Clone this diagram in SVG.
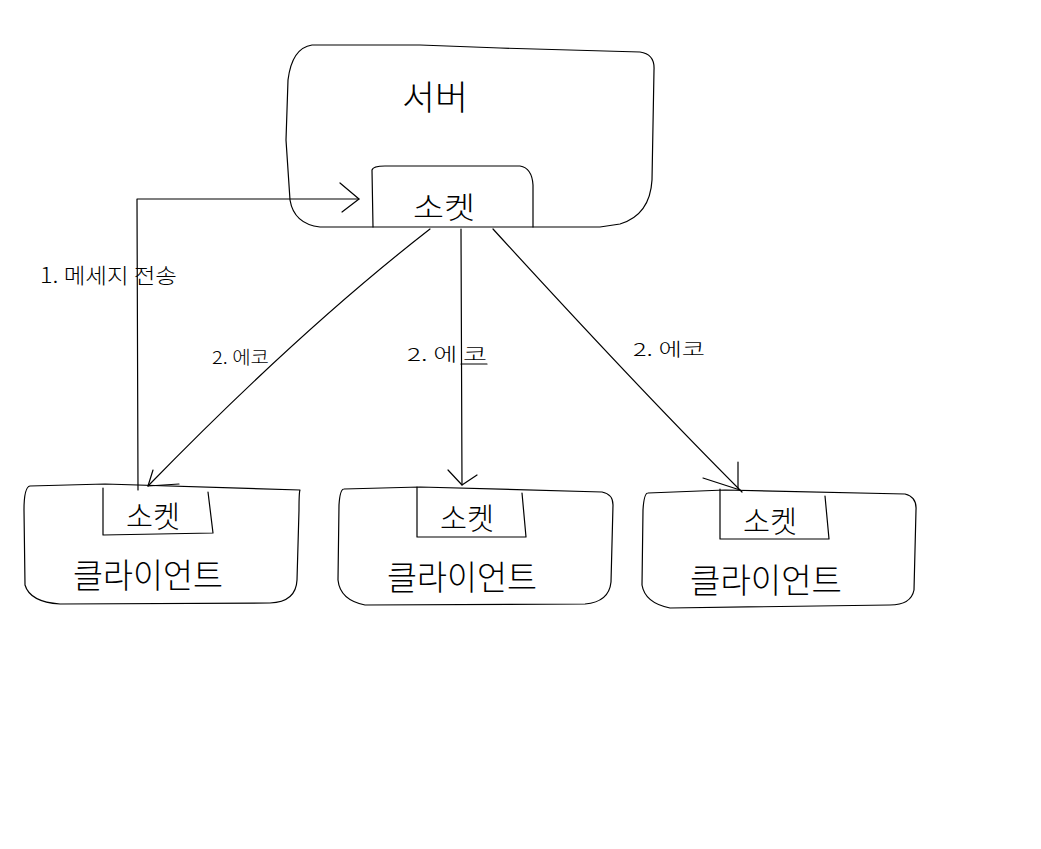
<svg xmlns="http://www.w3.org/2000/svg" width="1041" height="849" viewBox="0 0 1041 849">
<style>
.ln{fill:none;stroke:#000;stroke-width:1.2;stroke-linecap:round;stroke-linejoin:round}
.t{font-family:"Noto Sans CJK KR","Noto Sans",sans-serif;fill:#000;font-weight:300}
.big{font-size:34px}
.sk{font-size:30px}
.lb{font-size:18px}
</style>
<rect width="1041" height="849" fill="#fff"/>
<g id="server">
<path class="ln" d="M312,45 L420,45 L500,48 L640,52 Q655,54 654,70 L652,180 Q650,215 620,224 L600,227 L320,227 Q294,224 290,200 L286,140 L288,80 Q292,48 312,45 Z"/>
<text class="t big" x="435" y="110" text-anchor="middle" textLength="66" lengthAdjust="spacingAndGlyphs">서버</text>
</g>
<g id="server-socket">
<path class="ln" d="M373,227 L372,170 Q373,166 385,166 L520,166 Q532,168 533,185 L533,227"/>
<text class="t sk" x="444" y="218" text-anchor="middle" textLength="62" lengthAdjust="spacingAndGlyphs">소켓</text>
</g>
<g id="client1">
<path class="ln" d="M30,486 L105,484 L300,490 Q299,492 299,510 L297,580 Q296,602 270,603 L60,604 Q30,602 25,585 L24,510 Q24,487 30,486 Z"/>
<path class="ln" d="M103,488 L103,535 L213,533 L208,492"/>
<text class="t sk" x="153" y="527" text-anchor="middle" textLength="54" lengthAdjust="spacingAndGlyphs">소켓</text>
<text class="t big" x="148" y="588" text-anchor="middle" textLength="150" lengthAdjust="spacingAndGlyphs">클라이언트</text>
</g>
<g id="client2">
<path class="ln" d="M344,489 L420,487 L602,492 Q613,494 613,505 L611,582 Q609,602 585,604 L365,605 Q340,600 338,580 L339,505 Q340,489 344,489 Z"/>
<path class="ln" d="M417,487 L417,537 L526,537 L522,493"/>
<text class="t sk" x="467" y="529" text-anchor="middle" textLength="54" lengthAdjust="spacingAndGlyphs">소켓</text>
<text class="t big" x="462" y="590" text-anchor="middle" textLength="150" lengthAdjust="spacingAndGlyphs">클라이언트</text>
</g>
<g id="client3">
<path class="ln" d="M648,493 L725,490 L905,494 Q917,497 916,510 L914,590 Q911,605 890,605 L670,608 Q645,603 642,585 L643,510 Q644,493 648,493 Z"/>
<path class="ln" d="M720,489 L720,539 L829,539 L825,496"/>
<text class="t sk" x="770" y="532" text-anchor="middle" textLength="54" lengthAdjust="spacingAndGlyphs">소켓</text>
<text class="t big" x="766" y="593" text-anchor="middle" textLength="152" lengthAdjust="spacingAndGlyphs">클라이언트</text>
</g>
<g id="connectors">
<path class="ln" d="M138,490 L137,199 L359,199"/>
<path class="ln" d="M340,183 L359,199 L342,212"/>
<path class="ln" d="M430,229 Q300,330 148,486"/>
<path class="ln" d="M153,470 L148,486 L179,484"/>
<path class="ln" d="M461,229 L462,485"/>
<path class="ln" d="M448,470 L462,485 L477,475"/>
<path class="ln" d="M493,229 Q640,390 742,492"/>
<path class="ln" d="M738,462 L738,488 M703,478 L740,490"/>
<line class="ln" x1="461" y1="364" x2="487" y2="364"/>
</g>
<g id="labels">
<text class="t" x="40" y="283" font-size="21" textLength="137" lengthAdjust="spacingAndGlyphs">1. 메세지 전송</text>
<text class="t lb" x="212" y="364" textLength="57" lengthAdjust="spacingAndGlyphs">2. 에코</text>
<text class="t lb" x="407" y="361" textLength="80" lengthAdjust="spacingAndGlyphs">2. 에 코</text>
<text class="t lb" x="633" y="356" textLength="72" lengthAdjust="spacingAndGlyphs">2. 에코</text>
</g>
</svg>
